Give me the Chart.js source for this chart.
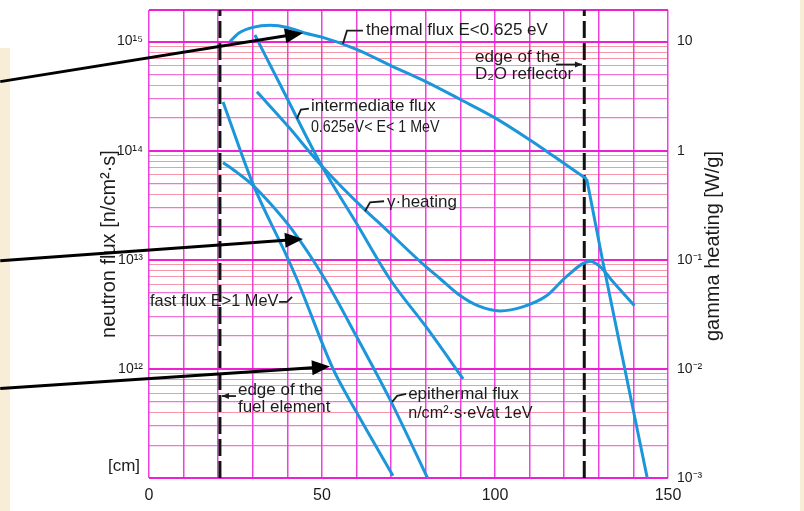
<!DOCTYPE html>
<html>
<head>
<meta charset="utf-8">
<script src="https://cdn.jsdelivr.net/npm/chart.js@4.4.1/dist/chart.umd.min.js"></script>
<style>
  html, body { margin: 0; padding: 0; background: #fff; }
  #wrap { width: 804px; height: 511px; position: relative; }
</style>
</head>
<body>
<div id="wrap"><canvas id="chart"></canvas></div>
<script>
// distance [cm] and neutron flux [n/cm2 s]
var thermalCm   = [23.4, 26, 30, 35, 40, 45, 50, 60, 70, 80, 90, 100, 110, 117, 126.5];
var thermalFlux = [1.0e15, 1.2e15, 1.35e15, 1.41e15, 1.35e15, 1.2e15, 1.1e15, 8.5e14, 6.0e14, 4.3e14, 2.95e14, 2.0e14, 1.26e14, 8.9e13, 5.5e13];
// behind the D2O edge the thermal flux drops straight down
var reflectorCm   = [126.5, 127.5, 131.2, 137, 144];
var reflectorFlux = [5.5e13, 3.8e13, 9.5e12, 1.2e12, 1.0e11];

var intermediateCm   = [30.6, 38.7, 50, 60, 69.7, 80, 90.8];
var intermediateFlux = [1.15e15, 3.6e14, 7.2e13, 2.15e13, 6.6e12, 2.45e12, 8.1e11];

var fastCm   = [21.4, 30, 40, 42.8, 53.2, 60, 70.5];
var fastFlux = [2.8e14, 5.0e13, 1.05e13, 6.6e12, 1.0e12, 4.0e11, 1.05e11];

var epiCm   = [21.4, 25.5, 29.8, 35, 41.3, 50.9, 60.1, 69.7, 80.5];
var epiFlux = [7.8e13, 6.3e13, 4.9e13, 3.3e13, 1.9e13, 6.6e12, 1.95e12, 5.2e11, 1.0e11];

// gamma heating [W/g], right axis
var gammaCm   = [31.2, 40, 50, 63, 66.8, 78.3, 84.4, 89.9, 95, 101.4, 108, 115, 120.8, 127.5, 130.3, 134.1, 140.3];
var gammaHeat = [3.47, 1.7, 0.72, 0.275, 0.214, 0.097, 0.066, 0.047, 0.038, 0.034, 0.037, 0.047, 0.071, 0.097, 0.087, 0.063, 0.038];

var edgeCm = [20.5, 125.8];   // fuel element edge, D2O reflector edge

var xTicks = [0, 50, 100, 150];
var fluxMin = 1e11, fluxMax = 1.95e15;
var heatMin = 1e-3, heatMax = 19.5;
var heatDecades = [1e-3, 1e-2, 1e-1, 1, 10];
var heatLabels = ['10\u207B\u00B3', '10\u207B\u00B2', '10\u207B\u00B9', '1', '10'];

var family = '"Liberation Sans", Arial, Helvetica, sans-serif';
var ink = '#1c1c1c';
var blue = 'rgb(28,150,218)';
var paper = '#f8eed8';

var notes = [
    { x: 62.7, y: 1.26e15, lines: ['thermal flux E<0.625 eV'], leader: [[-23, 13], [-19, 0], [-3, 0]] },
    { x: 94.2, y: 7.15e14, lines: ['edge of the', 'D\u2082O reflector'], gap: 17, arrow: [[81, 7], [107, 7]] },
    { x: 46.8, y: 2.54e14, lines: ['intermediate flux', '0.625eV< E< 1 MeV'], gap: 21, squeeze: [1, 0.84], leader: [[-14, 12], [-10, 3], [-2, 2]] },
    { x: 68.8, y: 3.37e13, lines: ['\u03B3\u00B7heating'], leader: [[-22, 9], [-17, 0], [-3, -1]] },
    { x: 0.3, y: 4.2e12, lines: ['fast flux E>1 MeV'], squeeze: [0.96], leader: [[129, 1], [137, 1], [142, -4]] },
    { x: 25.7, y: 6.4e11, lines: ['edge of the', 'fuel element'], gap: 17, arrow: [[-2, 6], [-16, 6]] },
    { x: 74.9, y: 5.9e11, lines: ['epithermal flux', 'n/cm\u00B2\u00B7s\u00B7eVat 1eV'], gap: 19, squeeze: [1, 0.95], leader: [[-16, 8], [-11, 2], [-2, 0]] }
];

// the three black pointer arrows coming in from the left
var pointers = [
    { from: [-43, 4.3e14], to: [44.5, 1.2e15] },
    { from: [-43, 9.8e12], to: [44.5, 1.55e13] },
    { from: [-43, 6.6e11], to: [52.3, 1.05e12] }
];

function sup(n) {
    var map = { '-': '\u207B', '0': '\u2070', '1': '\u00B9', '2': '\u00B2', '3': '\u00B3', '4': '\u2074', '5': '\u2075', '6': '\u2076', '7': '\u2077', '8': '\u2078', '9': '\u2079' };
    return String(n).split('').map(function (ch) { return map[ch]; }).join('');
}

function points(xs, ys) {
    return xs.map(function (x, i) { return { x: x, y: ys[i] }; });
}

function curve(label, xs, ys, axis, straight) {
    return {
        label: label,
        data: points(xs, ys),
        yAxisID: axis || 'y',
        borderColor: blue,
        borderWidth: 3,
        pointRadius: 0,
        fill: false,
        tension: 0,
        cubicInterpolationMode: straight ? 'default' : 'monotone'
    };
}

function edge(cm) {
    return {
        label: 'edge ' + cm,
        data: [{ x: cm, y: fluxMin }, { x: cm, y: fluxMax }],
        yAxisID: 'y',
        borderColor: '#111',
        borderWidth: 3,
        borderDash: [17, 5],
        pointRadius: 0,
        tension: 0
    };
}

function gridKind(v) {
    if (v >= fluxMax * 0.999) return 'major';
    var e = Math.floor(Math.log10(v) + 1e-9);
    var m = Math.round(v / Math.pow(10, e));
    if (m === 1) return 'major';
    if (m === 2 || m === 3 || m === 5) return 'mid';
    return 'minor';
}

// keep the plot box where the scan has it, no label overhang padding
function noPad(s) {
    s.paddingTop = 0;
    s.paddingBottom = 0;
    s.paddingLeft = 0;
    s.paddingRight = 0;
}

function arrowHead(c, x0, y0, x1, y1, len, half) {
    var ang = Math.atan2(y1 - y0, x1 - x0);
    c.beginPath();
    c.moveTo(x1, y1);
    c.lineTo(x1 - len * Math.cos(ang) + half * Math.sin(ang), y1 - len * Math.sin(ang) - half * Math.cos(ang));
    c.lineTo(x1 - len * Math.cos(ang) - half * Math.sin(ang), y1 - len * Math.sin(ang) + half * Math.cos(ang));
    c.closePath();
    c.fill();
}

var decor = {
    id: 'decor',
    beforeDraw: function (chart) {
        var c = chart.ctx;
        c.save();
        c.fillStyle = '#fff';
        c.fillRect(0, 0, chart.width, chart.height);
        c.fillStyle = paper;
        c.fillRect(0, 48, 10, chart.height - 48);
        c.fillRect(800, 0, chart.width - 800, chart.height);
        c.restore();
    },
    afterDraw: function (chart) {
        var c = chart.ctx, a = chart.chartArea;
        var xs = chart.scales.x, ys = chart.scales.y;
        var midY = (a.top + a.bottom) / 2;
        c.save();
        c.fillStyle = ink;
        c.strokeStyle = ink;

        // axis titles, both read bottom to top
        c.font = '20px ' + family;
        c.textAlign = 'center';
        c.textBaseline = 'middle';
        c.save();
        c.translate(a.left - 40, midY);
        c.rotate(-Math.PI / 2);
        c.fillText('neutron flux [n/cm\u00B2\u00B7s]', 0, 0);
        c.restore();
        c.save();
        c.translate(a.right + 45, midY + 2);
        c.rotate(-Math.PI / 2);
        c.fillText('gamma heating [W/g]', 0, 0);
        c.restore();

        c.font = '17px ' + family;
        c.fillText('[cm]', a.left - 25, a.bottom - 12);

        // curve labels
        c.textAlign = 'left';
        c.font = '17px ' + family;
        notes.forEach(function (n) {
            var px = xs.getPixelForValue(n.x), py = ys.getPixelForValue(n.y);
            n.lines.forEach(function (t, i) {
                var sx = n.squeeze ? (n.squeeze[i] || 1) : 1;
                c.save();
                c.translate(px, py + i * (n.gap || 0));
                c.scale(sx, 1);
                c.fillText(t, 0, 0);
                c.restore();
            });
            c.lineWidth = 1.8;
            if (n.leader) {
                c.beginPath();
                n.leader.forEach(function (p, i) {
                    if (i === 0) c.moveTo(px + p[0], py + p[1]);
                    else c.lineTo(px + p[0], py + p[1]);
                });
                c.stroke();
            }
            if (n.arrow) {
                var p0 = n.arrow[0], p1 = n.arrow[1];
                c.beginPath();
                c.moveTo(px + p0[0], py + p0[1]);
                c.lineTo(px + p1[0], py + p1[1]);
                c.stroke();
                arrowHead(c, px + p0[0], py + p0[1], px + p1[0], py + p1[1], 7, 3);
            }
        });

        // pointer arrows
        c.fillStyle = '#000';
        c.strokeStyle = '#000';
        c.lineWidth = 3;
        pointers.forEach(function (p) {
            var x0 = xs.getPixelForValue(p.from[0]), y0 = ys.getPixelForValue(p.from[1]);
            var x1 = xs.getPixelForValue(p.to[0]), y1 = ys.getPixelForValue(p.to[1]);
            var ang = Math.atan2(y1 - y0, x1 - x0);
            c.beginPath();
            c.moveTo(x0, y0);
            c.lineTo(x1 - 14 * Math.cos(ang), y1 - 14 * Math.sin(ang));
            c.stroke();
            arrowHead(c, x0, y0, x1, y1, 18, 7.5);
        });
        c.restore();
    }
};

var ctx = document.getElementById('chart').getContext('2d');
new Chart(ctx, {
    type: 'line',
    data: {
        datasets: [
            curve('thermal flux', thermalCm, thermalFlux),
            curve('thermal flux (reflector)', reflectorCm, reflectorFlux, 'y', true),
            curve('intermediate flux', intermediateCm, intermediateFlux),
            curve('fast flux', fastCm, fastFlux),
            curve('epithermal flux', epiCm, epiFlux),
            curve('gamma heating', gammaCm, gammaHeat, 'y2'),
            edge(edgeCm[0]),
            edge(edgeCm[1])
        ]
    },
    options: {
        responsive: true,
        maintainAspectRatio: false,
        animation: false,
        layout: { padding: { top: 10, left: 0, right: 0, bottom: 0 } },
        plugins: {
            legend: { display: false },
            tooltip: { enabled: false }
        },
        scales: {
            x: {
                type: 'linear',
                min: 0,
                max: 150,
                afterFit: function (s) { s.height = 33; noPad(s); },
                ticks: {
                    stepSize: 10,
                    autoSkip: false,
                    maxRotation: 0,
                    padding: 8,
                    color: ink,
                    font: { family: family, size: 16 },
                    callback: function (v) { return xTicks.indexOf(v) >= 0 ? String(v) : ''; }
                },
                grid: { color: 'rgba(235,30,215,0.85)', lineWidth: 1.5, drawTicks: false },
                border: { display: false }
            },
            y: {
                type: 'logarithmic',
                position: 'left',
                min: fluxMin,
                max: fluxMax,
                afterFit: function (s) { s.width = 149; noPad(s); },
                afterBuildTicks: function (s) {
                    var t = [];
                    for (var e = 11; e <= 15; e++) {
                        for (var m = 1; m <= 9; m++) {
                            var v = m * Math.pow(10, e);
                            if (v <= fluxMax) t.push({ value: v });
                        }
                    }
                    t.push({ value: fluxMax });
                    s.ticks = t;
                },
                ticks: {
                    autoSkip: false,
                    padding: 6,
                    color: ink,
                    font: { family: family, size: 14 },
                    callback: function (v) {
                        var lg = Math.log10(v), e = Math.round(lg);
                        if (Math.abs(lg - e) < 1e-6 && e >= 12 && e <= 15) return '10' + sup(e);
                        return '';
                    }
                },
                grid: {
                    drawTicks: false,
                    color: function (c) {
                        if (!c.tick) return 'rgba(235,20,210,0.95)';
                        var k = gridKind(c.tick.value);
                        if (k === 'major') return 'rgba(235,20,210,0.95)';
                        if (k === 'mid') return 'rgba(240,70,200,0.75)';
                        return 'rgba(240,80,110,0.6)';
                    },
                    lineWidth: function (c) {
                        if (!c.tick) return 2;
                        var k = gridKind(c.tick.value);
                        return k === 'major' ? 2 : (k === 'mid' ? 1.2 : 1);
                    }
                },
                border: { display: false }
            },
            y2: {
                type: 'logarithmic',
                position: 'right',
                min: heatMin,
                max: heatMax,
                afterFit: function (s) { s.width = 136; noPad(s); },
                afterBuildTicks: function (s) {
                    s.ticks = heatDecades.map(function (v) { return { value: v }; });
                },
                ticks: {
                    autoSkip: false,
                    padding: 9,
                    color: ink,
                    font: { family: family, size: 14 },
                    callback: function (v) {
                        var i = heatDecades.findIndex(function (d) { return Math.abs(d - v) < d * 1e-6; });
                        return i >= 0 ? heatLabels[i] : '';
                    }
                },
                grid: { display: false, drawTicks: false },
                border: { display: false }
            }
        }
    },
    plugins: [decor]
});
</script>
</body>
</html>
